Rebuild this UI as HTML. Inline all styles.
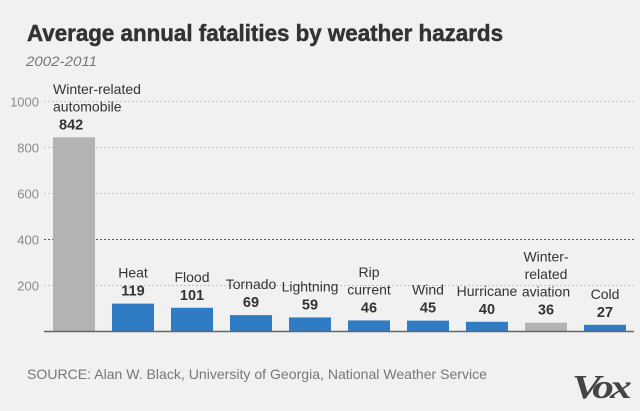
<!DOCTYPE html>
<html><head><meta charset="utf-8"><style>
html,body{margin:0;padding:0;background:#f0f1f0;}
svg{display:block;font-family:"Liberation Sans",sans-serif;}
</style></head><body>
<svg id="chart" width="640" height="411" viewBox="0 0 640 411" xmlns="http://www.w3.org/2000/svg">
<rect width="640" height="411" fill="#f0f1f0"/>
<text x="27" y="41" font-size="23" font-weight="bold" fill="#333" stroke="#333" stroke-width="0.5" textLength="476" lengthAdjust="spacingAndGlyphs">Average annual fatalities by weather hazards</text>
<text x="26" y="66" font-size="14" font-style="italic" fill="#777" textLength="71" lengthAdjust="spacingAndGlyphs">2002-2011</text>
<g id="grid"></g>
<g id="bars"></g>
<line x1="44" y1="331.5" x2="634" y2="331.5" stroke="#666" stroke-width="1.5"/>
<text x="27" y="379" font-size="14" fill="#777" textLength="460" lengthAdjust="spacingAndGlyphs">SOURCE: Alan W. Black, University of Georgia, National Weather Service</text>
<text x="572" y="398" font-family="Liberation Serif, serif" font-size="34" font-weight="bold" font-style="italic" fill="#444" letter-spacing="-3" textLength="56" lengthAdjust="spacingAndGlyphs">Vox</text>
</svg>
<script>
const categories = [["Winter-related","automobile"],["Heat"],["Flood"],["Tornado"],["Lightning"],["Rip","current"],["Wind"],["Hurricane"],["Winter-","related","aviation"],["Cold"]];
const values = [842,119,101,69,59,46,45,40,36,27];
const isGray = [true,false,false,false,false,false,false,false,true,false];
const ticks = [200,400,600,800,1000];
const NS="http://www.w3.org/2000/svg";
const y0=331, pxPerUnit=0.23;
function yScale(v){return y0 - v*pxPerUnit;}
function xScale(i){return 53 + i*59;}
const bw=42;
function mk(tag,attrs,parent){const e=document.createElementNS(NS,tag);for(const k in attrs)e.setAttribute(k,attrs[k]);parent.appendChild(e);return e;}
const grid=document.getElementById('grid'), bars=document.getElementById('bars');
ticks.forEach(t=>{
  const y=Math.round(yScale(t))+0.5;
  const ln=mk('line',{x1:44,x2:634,y1:y,y2:y,stroke:t===400?'#555':'#c4c4c4','stroke-width':1,'stroke-dasharray':'2,2'},grid);
  
  
  const tx=mk('text',{x:39,y:y+5,'text-anchor':'end','font-size':13,fill:'#8a8a8a'},grid);
  tx.textContent=t;
  
  
});
values.forEach((v,i)=>{
  const x=xScale(i), y=yScale(v);
  const r=mk('rect',{x:x,y:y,width:bw,height:y0-y,fill:isGray[i]?'#b3b3b3':'#2f7bc4'},bars);
  
  
  const cx=i===0?x:x+bw/2, anchor=i===0?'start':'middle';
  const vt=mk('text',{x:i===0?x+6:cx,y:y-8,'text-anchor':anchor,'font-size':14.5,'font-weight':'bold',fill:'#333'},bars);
  vt.textContent=v;
  
  
  const lines=categories[i];
  lines.forEach((s,j)=>{
    const t=mk('text',{x:cx,y:y-26-(lines.length-1-j)*17.5,'text-anchor':anchor,'font-size':14,fill:'#333'},bars);
    t.textContent=s;
    
    
  });
});
</script>
</body></html>
